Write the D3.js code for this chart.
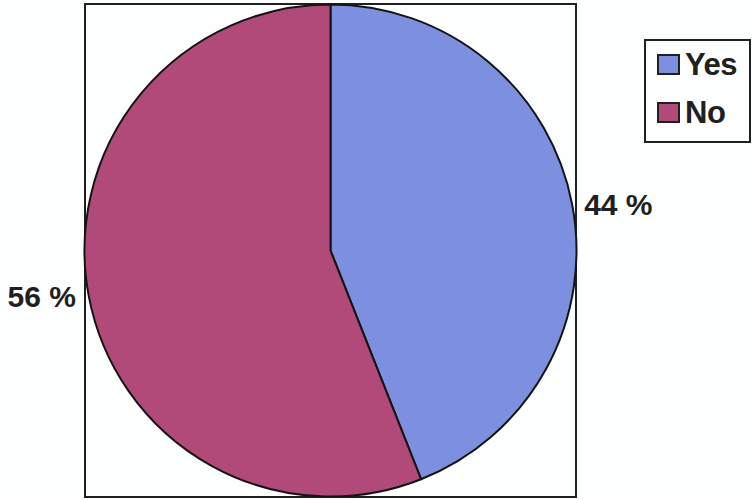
<!DOCTYPE html>
<html>
<head>
<meta charset="utf-8">
<script src="https://cdn.jsdelivr.net/npm/d3@7"></script>
<style>
  html, body { margin: 0; padding: 0; background: #fdfefe; }
  svg { display: block; }
  text { font-family: "Liberation Sans", Arial, sans-serif; font-weight: bold; fill: #1f2020; }
</style>
</head>
<body>
<svg id="chart" width="754" height="500"></svg>
<script>
// Survey answers (percent)
const categories = ["Yes", "No"];
const values = [44, 56];
const labels = ["44 %", "56 %"];
const colors = ["#7d8fdf", "#b14a79"];

const svg = d3.select("#chart");

// Plot area frame
const plot = { x0: 85, y0: 4, x1: 576, y1: 497 };
svg.append("rect")
  .attr("x", plot.x0).attr("y", plot.y0)
  .attr("width", plot.x1 - plot.x0).attr("height", plot.y1 - plot.y0)
  .attr("fill", "none").attr("stroke", "#1f2020").attr("stroke-width", 2);

const cx = 330.5, cy = 250.5, R = 246;
const data = categories.map((c, i) => ({ name: c, value: values[i], label: labels[i], color: colors[i] }));

const pie = d3.pie().sort(null).value(d => d.value).startAngle(0).endAngle(2 * Math.PI);
const arc = d3.arc().innerRadius(0).outerRadius(R);
const arcs = pie(data);

const g = svg.append("g").attr("transform", `translate(${cx},${cy})`);
g.selectAll("path.slice")
  .data(arcs)
  .join("path")
  .attr("class", "slice")
  .attr("d", arc)
  .attr("fill", d => d.data.color)
  .attr("stroke", "#141414")
  .attr("stroke-width", 2)
  .attr("stroke-linejoin", "round");

// Percentage labels just outside the rim at each slice's mid-angle
g.selectAll("text.pct")
  .data(arcs)
  .join("text")
  .attr("class", "pct")
  .each(function(d) {
    const a = (d.startAngle + d.endAngle) / 2;
    const px = Math.sin(a) * R, py = -Math.cos(a) * R;
    const right = px > 0;
    d3.select(this)
      .attr("x", px + (right ? 12 : -13))
      .attr("y", py)
      .attr("dy", "0.36em")
      .attr("text-anchor", right ? "start" : "end");
  })
  .style("font-size", "30px")
  .text(d => d.data.label);

// Legend
const lg = svg.append("g");
lg.append("rect")
  .attr("x", 645).attr("y", 40).attr("width", 105).attr("height", 102)
  .attr("fill", "#fdfefe").attr("stroke", "#1f2020").attr("stroke-width", 2);
const item = lg.selectAll("g.item")
  .data(data)
  .join("g")
  .attr("class", "item")
  .attr("transform", (d, i) => `translate(658,${55 + i * 48})`);
item.append("rect")
  .attr("width", 21).attr("height", 19)
  .attr("fill", d => d.color)
  .attr("stroke", "#1f2020").attr("stroke-width", 2);
item.append("text")
  .attr("x", 27).attr("y", 20)
  .style("font-size", "31px")
  .style("letter-spacing", "-0.5px")
  .text(d => d.name);
</script>
</body>
</html>
